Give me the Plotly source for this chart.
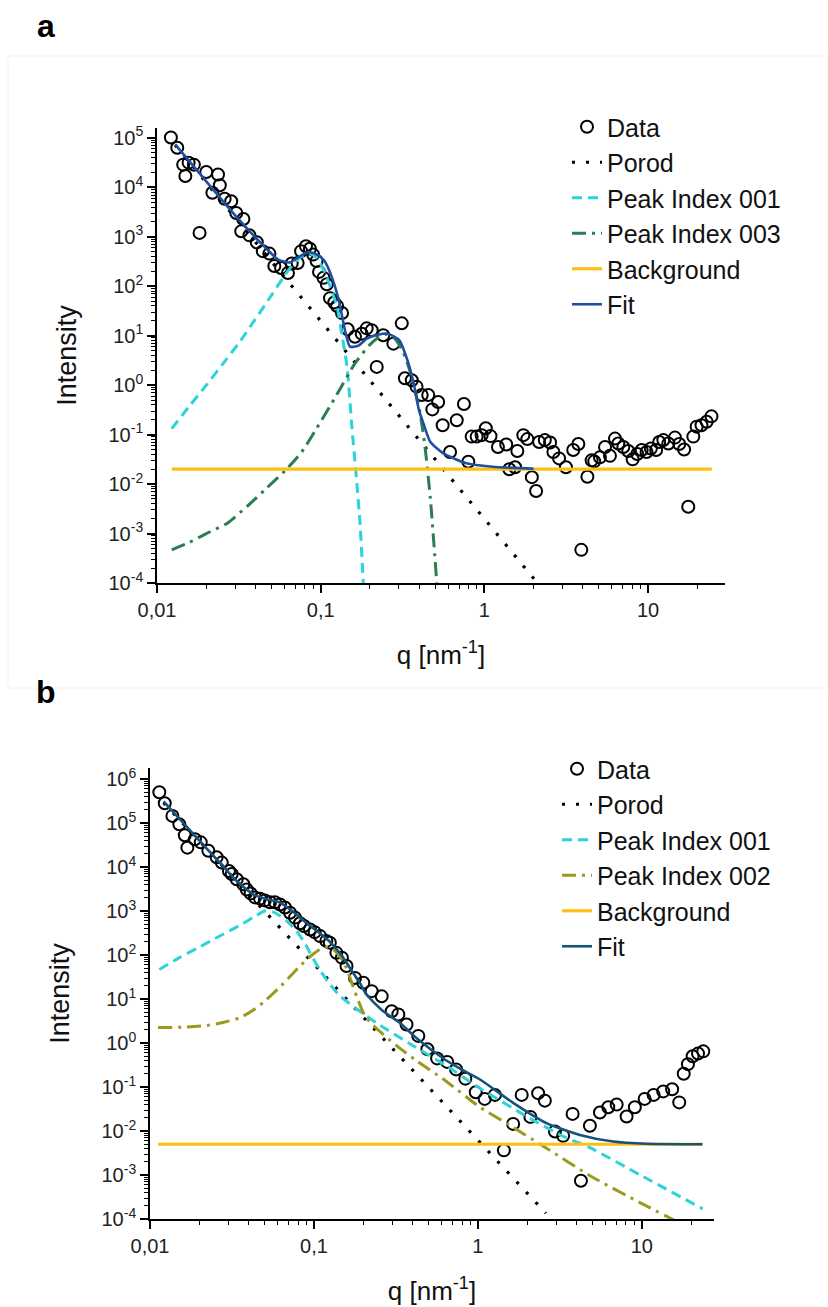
import plotly.graph_objects as go

# ---------------- Panel a ----------------
a_data_q = [1.216e-2, 1.33e-2, 1.445e-2, 1.49e-2, 1.56e-2, 1.68e-2, 1.82e-2, 2.00e-2, 2.18e-2, 2.36e-2,
            2.42e-2, 2.59e-2, 2.84e-2, 3.05e-2, 3.27e-2, 3.37e-2, 3.67e-2, 4.07e-2, 4.43e-2, 4.86e-2,
            5.21e-2, 5.73e-2, 6.31e-2, 6.65e-2, 7.23e-2, 7.59e-2, 8.13e-2, 8.59e-2, 8.99e-2, 9.44e-2,
            9.77e-2, 0.104, 0.109, 0.114, 0.121, 0.126, 0.135, 0.146, 0.162, 0.178,
            0.191, 0.205, 0.220, 0.241, 0.278, 0.313, 0.327, 0.360, 0.385, 0.414,
            0.454, 0.481, 0.522, 0.556, 0.617, 0.678, 0.750, 0.798, 0.836, 0.897,
            0.962, 1.02, 1.09, 1.21, 1.36, 1.42, 1.54, 1.59, 1.73, 1.83,
            1.95, 2.07, 2.16, 2.34, 2.52, 2.64, 2.86, 3.15, 3.49, 3.75,
            3.91, 4.26, 4.52, 4.69, 5.08, 5.46, 5.85, 6.28, 6.58, 7.06,
            7.57, 8.05, 8.59, 9.14, 9.79, 10.4, 11.2, 11.7, 12.4, 13.3,
            14.6, 15.5, 16.6, 17.6, 18.9, 19.8, 21.2, 22.8, 24.4]
a_data_I = [1.02e5, 6.31e4, 2.88e4, 1.70e4, 3.16e4, 2.88e4, 1.20e3, 2.04e4, 7.76e3, 1.82e4,
            1.10e4, 5.89e3, 5.25e3, 3.02e3, 1.29e3, 2.29e3, 1.07e3, 776, 513, 457,
            257, 234, 186, 288, 295, 513, 646, 575, 437, 324,
            195, 148, 110, 57.5, 46.8, 39.8, 28.8, 13.5, 9.55, 11.0,
            14.1, 12.9, 2.34, 10.2, 6.92, 17.8, 1.38, 1.26, 0.933, 0.631,
            0.631, 0.324, 0.457, 0.155, 0.0447, 0.195, 0.417, 0.0282, 0.0912, 0.0912,
            0.0977, 0.135, 0.0933, 0.0562, 0.0631, 0.0200, 0.0219, 0.0468, 0.0977, 0.0813,
            0.0138, 0.00724, 0.0708, 0.0776, 0.0692, 0.0447, 0.0331, 0.0219, 0.0490, 0.0646,
            4.68e-4, 0.0141, 0.0302, 0.0288, 0.0347, 0.0562, 0.0372, 0.0832, 0.0661, 0.0562,
            0.0468, 0.0316, 0.0407, 0.0490, 0.0447, 0.0525, 0.0490, 0.0708, 0.0776, 0.0661,
            0.0871, 0.0646, 0.0501, 3.47e-3, 0.0912, 0.145, 0.155, 0.182, 0.234]

a_porod_q = [0.0129, 0.1, 1.0, 2.11]
a_porod_I = [7.2e4, 20.0, 2.0e-3, 1.0e-4]

a_peak1_q = [1.23e-2, 1.58e-2, 2.00e-2, 2.51e-2, 3.16e-2, 3.98e-2, 5.01e-2, 6.03e-2, 6.92e-2, 7.94e-2,
             8.71e-2, 9.55e-2, 0.107, 0.117, 0.126, 0.135, 0.145, 0.155, 0.164, 0.174, 0.182]
a_peak1_I = [0.132, 0.380, 1.00, 2.63, 7.08, 21.4, 66.1, 166, 302, 437,
             457, 355, 178, 79.4, 38.0, 10.0, 2.34, 0.145, 0.0178, 1.58e-3, 1.0e-4]

a_peak3_q = [1.23e-2, 1.58e-2, 2.00e-2, 2.69e-2, 3.55e-2, 4.68e-2, 6.10e-2, 7.66e-2, 9.46e-2, 0.125,
             0.162, 0.200, 0.229, 0.254, 0.282, 0.316, 0.350, 0.380, 0.405, 0.434, 0.468, 0.512]
a_peak3_I = [4.68e-4, 6.61e-4, 1.0e-3, 1.62e-3, 3.55e-3, 8.32e-3, 0.0191, 0.0447, 0.135, 0.631,
             2.75, 6.61, 9.55, 10.7, 8.91, 5.01, 2.00, 0.708, 0.269, 0.0562, 5.01e-3, 1.0e-4]

a_bg_q = [0.0123, 24.5]
a_bg_I = [0.02, 0.02]

a_fit_q = [1.29e-2, 2.00e-2, 3.16e-2, 4.47e-2, 5.50e-2, 6.46e-2, 7.41e-2, 8.41e-2, 9.55e-2, 0.105,
           0.115, 0.129, 0.141, 0.151, 0.170, 0.191, 0.224, 0.257, 0.302, 0.339,
           0.372, 0.398, 0.427, 0.468, 0.562, 0.776, 1.12, 2.00]
a_fit_I = [7.41e4, 1.32e4, 2.24e3, 661, 347, 302, 398, 490, 437, 331,
           178, 52.5, 12.6, 6.03, 6.31, 8.71, 10.5, 11.0, 8.13, 3.16,
           1.0, 0.316, 0.158, 0.0708, 0.0417, 0.0263, 0.0224, 0.0204]

# ---------------- Panel b ----------------
b_data_q = [1.14e-2, 1.23e-2, 1.37e-2, 1.51e-2, 1.63e-2, 1.69e-2, 1.88e-2, 2.04e-2, 2.27e-2, 2.55e-2,
            2.74e-2, 3.03e-2, 3.15e-2, 3.38e-2, 3.71e-2, 3.89e-2, 4.11e-2, 4.37e-2, 4.69e-2, 5.02e-2,
            5.40e-2, 5.78e-2, 6.21e-2, 6.65e-2, 7.14e-2, 7.66e-2, 8.22e-2, 8.69e-2, 9.46e-2, 0.101,
            0.109, 0.119, 0.125, 0.137, 0.148, 0.158, 0.178, 0.200, 0.225, 0.259,
            0.298, 0.327, 0.367, 0.433, 0.492, 0.564, 0.650, 0.736, 0.838, 0.970,
            1.10, 1.27, 1.44, 1.64, 1.85, 2.09, 2.33, 2.56, 2.95, 3.31,
            3.78, 4.25, 4.82, 5.55, 6.24, 7.02, 8.07, 9.06, 10.4, 11.8,
            13.5, 15.3, 16.9, 18.0, 19.1, 20.4, 22.0, 23.7]
b_data_I = [5.01e5, 2.82e5, 1.45e5, 9.33e4, 5.25e4, 2.75e4, 4.27e4, 3.63e4, 2.34e4, 1.66e4,
            1.26e4, 8.13e3, 6.92e3, 5.25e3, 4.07e3, 3.09e3, 2.51e3, 2.04e3, 1.91e3, 1.74e3,
            1.58e3, 1.58e3, 1.41e3, 1.20e3, 912, 708, 525, 457, 380, 331,
            269, 209, 191, 112, 87.1, 56.2, 30.2, 23.4, 15.1, 11.5,
            5.25, 4.47, 2.63, 1.45, 0.724, 0.447, 0.372, 0.251, 0.155, 0.0759,
            0.0537, 0.0661, 3.63e-3, 0.0145, 0.0661, 0.0209, 0.0724, 0.0490, 9.77e-3, 7.76e-3,
            0.0245, 7.41e-4, 0.0132, 0.0263, 0.0347, 0.0398, 0.0214, 0.0347, 0.0537, 0.0661,
            0.0794, 0.0891, 0.0447, 0.200, 0.331, 0.501, 0.575, 0.646]

b_porod_q = [0.0121, 0.1, 1.0, 2.6]
b_porod_I = [2.9e5, 62.0, 6.2e-3, 1.35e-4]

b_peak1_q = [1.14e-2, 1.51e-2, 2.00e-2, 2.45e-2, 3.55e-2, 4.47e-2, 5.01e-2, 5.62e-2, 6.21e-2, 7.08e-2,
             7.83e-2, 8.71e-2, 9.46e-2, 0.109, 0.126, 0.145, 0.178, 0.240, 0.398, 0.631,
             1.0, 2.07, 3.31, 4.82, 10.0, 23.5]
b_peak1_I = [46.8, 87.1, 151, 229, 479, 794, 1000, 955, 776, 525,
             347, 200, 112, 44.7, 20.9, 11.5, 6.31, 2.88, 0.891, 0.316,
             0.1, 0.0195, 7.59e-3, 4.17e-3, 9.55e-4, 1.70e-4]

b_peak2_q = [1.12e-2, 1.58e-2, 2.22e-2, 2.82e-2, 3.56e-2, 4.27e-2, 5.01e-2, 6.31e-2, 8.22e-2, 9.46e-2,
             0.109, 0.119, 0.132, 0.151, 0.166, 0.182, 0.205, 0.236, 0.316, 0.425,
             0.631, 1.03, 1.58, 2.49, 5.01, 10.0, 16.2]
b_peak2_I = [2.24, 2.29, 2.51, 2.95, 3.80, 5.62, 8.91, 20.0, 56.2, 91.2,
             135, 151, 132, 70.8, 30.2, 11.5, 4.07, 2.29, 0.891, 0.389,
             0.141, 0.0347, 0.0132, 4.57e-3, 8.91e-4, 2.24e-4, 8.91e-5]

b_bg_q = [0.0112, 23.5]
b_bg_I = [5e-3, 5e-3]

b_fit_q = [1.21e-2, 2.00e-2, 2.82e-2, 3.38e-2, 4.27e-2, 5.14e-2, 6.21e-2, 7.48e-2, 9.04e-2, 0.109,
           0.125, 0.138, 0.151, 0.166, 0.191, 0.209, 0.265, 0.334, 0.425, 0.631,
           0.794, 1.03, 1.64, 2.62, 4.19, 6.68, 10.7, 23.4]
b_fit_I = [3.09e5, 3.98e4, 1.0e4, 4.79e3, 2.40e3, 1.86e3, 1.55e3, 955, 525, 309,
           200, 132, 87.1, 50.1, 22.9, 12.6, 5.25, 2.88, 1.26, 0.417,
           0.251, 0.148, 0.0437, 0.0151, 8.13e-3, 5.75e-3, 5.13e-3, 5.01e-3]

legend_a_names = ["Data", "Porod", "Peak Index 001", "Peak Index 003", "Background", "Fit"]
legend_b_names = ["Data", "Porod", "Peak Index 001", "Peak Index 002", "Background", "Fit"]

x_tick_vals = [0.01, 0.1, 1, 10]
x_tick_text = ["0,01", "0,1", "1", "10"]

# ---------------- styling ----------------
W, H = 828, 1307
FONT = "Liberation Sans, Arial, sans-serif"
CYAN = "#2CD3D8"
GREEN = "#2B7D52"
YELLOW = "#FDC012"
BLUE_A = "#1F4FA0"
OLIVE = "#9C9A1E"
BLUE_B = "#15527C"


def px_x(x0, x1):
    return [x0 / W, x1 / W]


def px_y(top, bottom):
    return [1 - bottom / H, 1 - top / H]


fig = go.Figure()


def add_panel(xa, ya, leg, data, porod, peak1, peak2, bg, fit, names, peak2_color, peak2_dash, fit_color):
    common = dict(xaxis=xa, yaxis=ya, legend=leg)
    fig.add_trace(go.Scatter(x=data[0], y=data[1], mode="markers", name=names[0],
                             marker=dict(symbol="circle-open", size=12, color="black",
                                         line=dict(width=2, color="black")),
                             legendgroup=leg + "1", **common))
    fig.add_trace(go.Scatter(x=porod[0], y=porod[1], mode="lines", name=names[1],
                             line=dict(color="black", width=3.2, dash="3px,11px"),
                             legendgroup=leg + "2", **common))
    fig.add_trace(go.Scatter(x=peak1[0], y=peak1[1], mode="lines", name=names[2],
                             line=dict(color=CYAN, width=3, dash="10px,6px", shape="spline", smoothing=0.6),
                             legendgroup=leg + "3", **common))
    fig.add_trace(go.Scatter(x=peak2[0], y=peak2[1], mode="lines", name=names[3],
                             line=dict(color=peak2_color, width=3, dash=peak2_dash, shape="spline", smoothing=0.6),
                             legendgroup=leg + "4", **common))
    fig.add_trace(go.Scatter(x=bg[0], y=bg[1], mode="lines", name=names[4],
                             line=dict(color=YELLOW, width=3.2),
                             legendgroup=leg + "5", **common))
    fig.add_trace(go.Scatter(x=fit[0], y=fit[1], mode="lines", name=names[5],
                             line=dict(color=fit_color, width=2.6, shape="spline", smoothing=0.6),
                             legendgroup=leg + "6", **common))


add_panel("x", "y", "legend", (a_data_q, a_data_I), (a_porod_q, a_porod_I), (a_peak1_q, a_peak1_I),
          (a_peak3_q, a_peak3_I), (a_bg_q, a_bg_I), (a_fit_q, a_fit_I), legend_a_names,
          GREEN, "14px,6px,3px,6px", BLUE_A)
add_panel("x2", "y2", "legend2", (b_data_q, b_data_I), (b_porod_q, b_porod_I), (b_peak1_q, b_peak1_I),
          (b_peak2_q, b_peak2_I), (b_bg_q, b_bg_I), (b_fit_q, b_fit_I), legend_b_names,
          OLIVE, "14px,6px,3px,6px", BLUE_B)


def minor_vals(lo, hi):
    vals = []
    for e in range(lo, hi + 1):
        for m in range(2, 10):
            vals.append(m * 10.0 ** e)
    return vals


def xaxis(domain, rng, anchor):
    return dict(type="log", domain=domain, range=rng, anchor=anchor, automargin=False,
                showline=True, linecolor="black", linewidth=1.6, mirror=False,
                showgrid=False, zeroline=False,
                ticks="outside", ticklen=8, tickwidth=1.6, tickcolor="black",
                tickvals=x_tick_vals, ticktext=x_tick_text,
                tickfont=dict(family=FONT, size=20, color="#222"),
                minor=dict(ticks="outside", ticklen=4, tickwidth=1.2, tickcolor="black",
                           tickvals=minor_vals(-2, 1), showgrid=False),
                title=dict(text="q [nm<sup>-1</sup>]", font=dict(family=FONT, size=26, color="#111"),
                           standoff=26))


def yaxis(domain, rng, anchor, lo, hi):
    vals = [10.0 ** e for e in range(lo, hi + 1)]
    text = ["10<sup>%d</sup>" % e for e in range(lo, hi + 1)]
    return dict(type="log", domain=domain, range=rng, anchor=anchor, automargin=False,
                showline=True, linecolor="black", linewidth=1.6, mirror=False,
                showgrid=False, zeroline=False,
                ticks="outside", ticklen=8, tickwidth=1.6, tickcolor="black",
                tickvals=vals, ticktext=text,
                tickfont=dict(family=FONT, size=20, color="#222"),
                minor=dict(ticks="outside", ticklen=4, tickwidth=1.0, tickcolor="black",
                           tickvals=minor_vals(lo, hi), showgrid=False),
                title=dict(text="Intensity", font=dict(family=FONT, size=27, color="#111"),
                           standoff=24))


legend_common = dict(font=dict(family=FONT, size=25, color="#111"), bgcolor="rgba(0,0,0,0)",
                     traceorder="normal", tracegroupgap=0, xanchor="left", yanchor="top",
                     itemwidth=30)

fig.update_layout(
    width=W, height=H,
    margin=dict(l=0, r=0, t=0, b=0, autoexpand=False),
    paper_bgcolor="white", plot_bgcolor="white",
    font=dict(family=FONT),
    showlegend=True,
    xaxis=xaxis(px_x(157, 725), [-2, 1.47], "y"),
    yaxis=yaxis(px_y(128, 583), [-4, 5.2], "x", -4, 5),
    xaxis2=xaxis(px_x(150, 714), [-2, 1.44], "y2"),
    yaxis2=yaxis(px_y(768, 1219), [-4, 6.25], "x2", -4, 6),
    legend=dict(x=567 / W, y=1 - 104 / H, **legend_common),
    legend2=dict(x=557 / W, y=1 - 746 / H, **legend_common),
    annotations=[
        dict(text="<b>a</b>", x=46 / W, y=1 - 26 / H, xref="paper", yref="paper",
             xanchor="center", yanchor="middle",
             showarrow=False, font=dict(family=FONT, size=32, color="black")),
        dict(text="<b>b</b>", x=46 / W, y=1 - 692 / H, xref="paper", yref="paper",
             xanchor="center", yanchor="middle",
             showarrow=False, font=dict(family=FONT, size=32, color="black")),
    ],
    shapes=[
        dict(type="rect", xref="paper", yref="paper", x0=8 / W, x1=1.0, y0=1 - 688 / H, y1=1 - 56 / H,
             line=dict(color="#F2F2F2", width=1), layer="below"),
    ],
)

fig.write_html("out.html", post_script="document.body.style.margin='0';",
               config={"displayModeBar": False})
